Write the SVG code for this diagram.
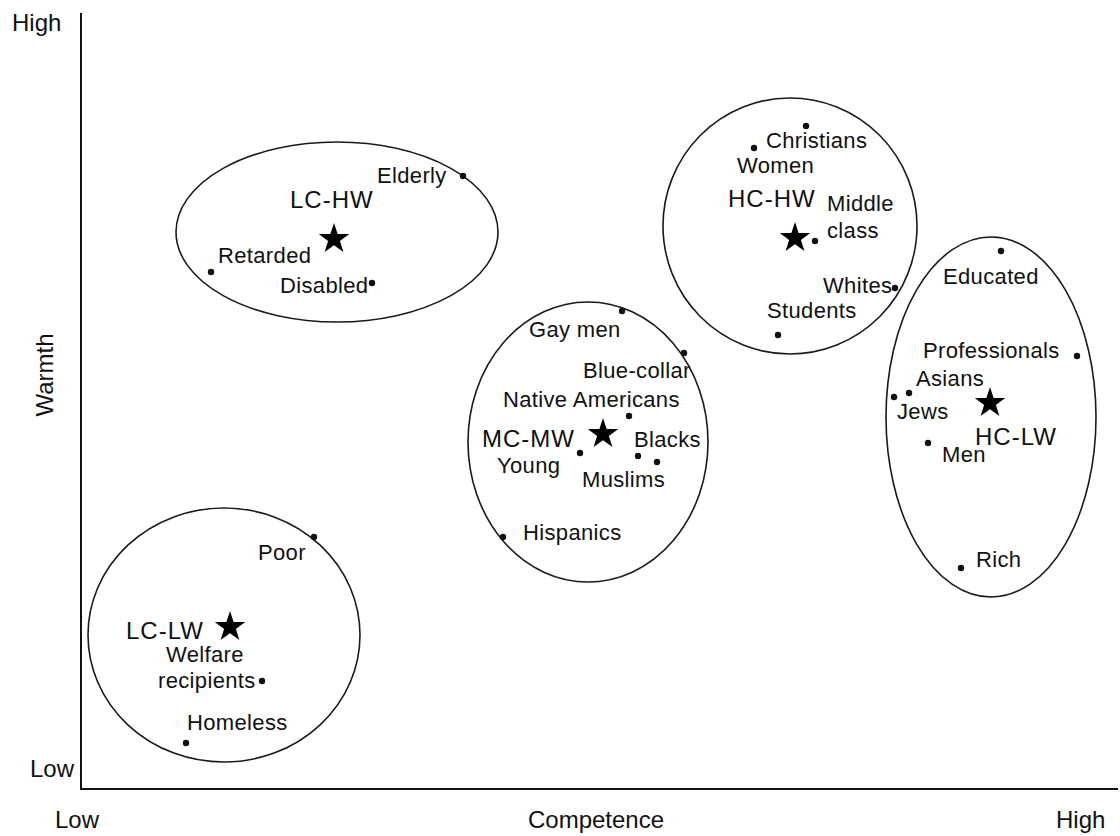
<svg xmlns="http://www.w3.org/2000/svg" width="1120" height="836" viewBox="0 0 1120 836">
<style>
.lbl{font-family:"Liberation Sans",Arial,sans-serif;font-size:22px;letter-spacing:0.35px;fill:#111}
.big{font-family:"Liberation Sans",Arial,sans-serif;font-size:24px;letter-spacing:1px;fill:#111}
.ax{font-family:"Liberation Sans",Arial,sans-serif;font-size:24px;fill:#111}
.ell{fill:none;stroke:#1a1a1a;stroke-width:1.6}
.axis{stroke:#111;stroke-width:2;fill:none}
</style>
<defs>
<path id="star" d="M0,-16 L3.64,-5.02 L15.22,-4.94 L5.9,1.92 L9.4,12.94 L0,6.2 L-9.4,12.94 L-5.9,1.92 L-15.22,-4.94 L-3.64,-5.02 Z" fill="#000"/>
<circle id="pt" r="3.2" fill="#111"/>
</defs>
<rect width="1120" height="836" fill="#fff"/>
<g id="axes">
<path class="axis" d="M81,13 L81,789 L1118,789"/>
<text class="ax" x="12" y="31">High</text>
<text class="ax" x="30" y="777">Low</text>
<text class="ax" x="55" y="828">Low</text>
<text class="ax" x="596" y="828" text-anchor="middle">Competence</text>
<text class="ax" x="1056" y="828">High</text>
<text class="ax" transform="translate(53,375) rotate(-90)" text-anchor="middle">Warmth</text>
</g>
<g id="connectors"></g>
<g id="cluster-lc-hw">
<ellipse class="ell" cx="337" cy="232" rx="161" ry="90"/>
<use href="#star" x="334" y="239"/>
<text class="big" x="290" y="208">LC-HW</text>
<g id="elderly"><use href="#pt" x="463" y="176"/><text class="lbl" x="377" y="183">Elderly</text></g>
<g id="retarded"><use href="#pt" x="211" y="272"/><text class="lbl" x="218" y="263">Retarded</text></g>
<g id="disabled"><use href="#pt" x="372" y="283"/><text class="lbl" x="280" y="293">Disabled</text></g>
</g>
<g id="cluster-mc-mw">
<ellipse class="ell" cx="588" cy="442" rx="120" ry="140"/>
<use href="#star" x="603" y="434"/>
<text class="big" x="482" y="447">MC-MW</text>
<g id="gaymen"><use href="#pt" x="622" y="311"/><text class="lbl" x="529" y="337">Gay men</text></g>
<g id="bluecollar"><use href="#pt" x="684" y="353"/><text class="lbl" x="583" y="378">Blue-collar</text></g>
<g id="nativeamericans"><use href="#pt" x="629" y="416"/><text class="lbl" x="503" y="407">Native Americans</text></g>
<g id="blacks"><use href="#pt" x="638" y="456"/><text class="lbl" x="634" y="447">Blacks</text></g>
<g id="young"><use href="#pt" x="580" y="453"/><text class="lbl" x="497" y="473">Young</text></g>
<g id="muslims"><use href="#pt" x="657" y="462"/><text class="lbl" x="582" y="487">Muslims</text></g>
<g id="hispanics"><use href="#pt" x="503" y="537"/><text class="lbl" x="523" y="540">Hispanics</text></g>
</g>
<g id="cluster-hc-hw">
<ellipse class="ell" cx="790" cy="226" rx="127" ry="128"/>
<use href="#star" x="795" y="238"/>
<text class="big" x="728" y="207">HC-HW</text>
<g id="christians"><use href="#pt" x="806" y="126"/><text class="lbl" x="766" y="148">Christians</text></g>
<g id="women"><use href="#pt" x="754" y="148"/><text class="lbl" x="737" y="173">Women</text></g>
<g id="middleclass"><use href="#pt" x="815" y="241"/><text class="lbl" x="827" y="211">Middle</text><text class="lbl" x="827" y="238">class</text></g>
<g id="whites"><use href="#pt" x="895" y="288"/><text class="lbl" x="823" y="293">Whites</text></g>
<g id="students"><use href="#pt" x="778" y="335"/><text class="lbl" x="767" y="318">Students</text></g>
</g>
<g id="cluster-hc-lw">
<ellipse class="ell" cx="991" cy="417" rx="105" ry="180"/>
<use href="#star" x="990" y="403"/>
<text class="big" x="975" y="445">HC-LW</text>
<g id="educated"><use href="#pt" x="1001" y="251"/><text class="lbl" x="943" y="284">Educated</text></g>
<g id="professionals"><use href="#pt" x="1077" y="356"/><text class="lbl" x="923" y="358">Professionals</text></g>
<g id="asians"><use href="#pt" x="909" y="393"/><text class="lbl" x="916" y="386">Asians</text></g>
<g id="jews"><use href="#pt" x="894" y="397"/><text class="lbl" x="897" y="419">Jews</text></g>
<g id="men"><use href="#pt" x="928" y="443"/><text class="lbl" x="942" y="462">Men</text></g>
<g id="rich"><use href="#pt" x="961" y="568"/><text class="lbl" x="976" y="567">Rich</text></g>
</g>
<g id="cluster-lc-lw">
<ellipse class="ell" cx="224" cy="635" rx="136" ry="127"/>
<use href="#star" x="230" y="627"/>
<text class="big" x="126" y="639">LC-LW</text>
<g id="poor"><use href="#pt" x="314" y="537"/><text class="lbl" x="258" y="560">Poor</text></g>
<g id="welfare"><use href="#pt" x="262" y="681"/><text class="lbl" x="166" y="662">Welfare</text><text class="lbl" x="158" y="688">recipients</text></g>
<g id="homeless"><use href="#pt" x="186" y="743"/><text class="lbl" x="187" y="730">Homeless</text></g>
</g>
</svg>
